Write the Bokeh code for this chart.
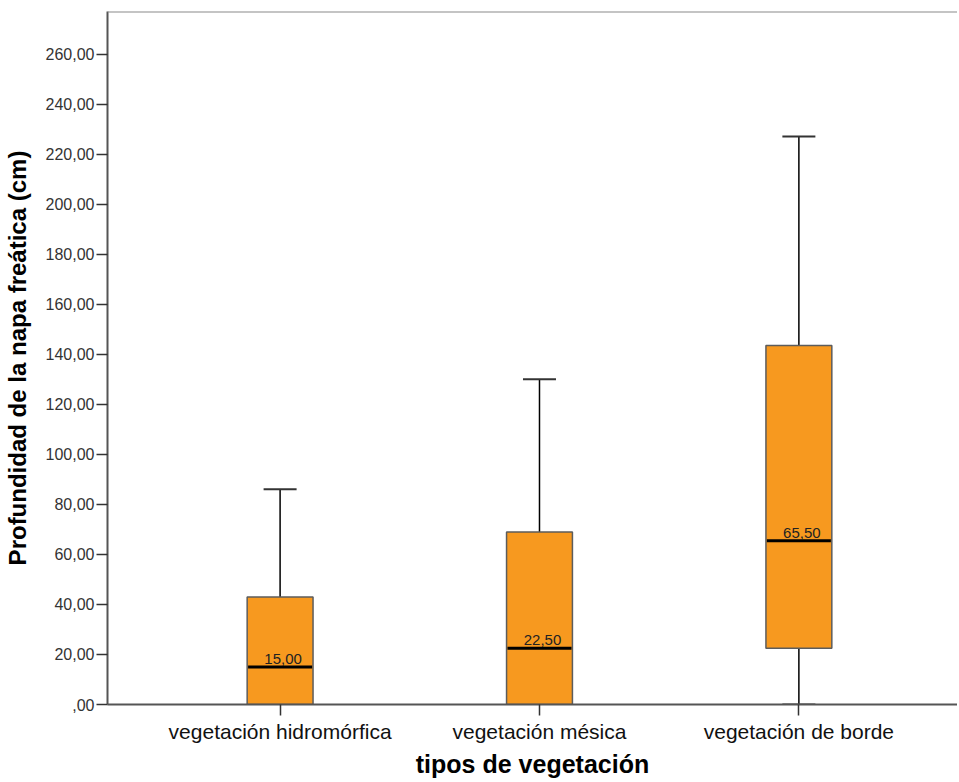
from bokeh.plotting import figure
from bokeh.models import Range1d, FixedTicker, Whisker, TeeHead, ColumnDataSource, Span, LabelSet
from bokeh.core.properties import value
from bokeh.embed import file_html
from bokeh.resources import INLINE

categories = ["vegetación hidromórfica", "vegetación mésica", "vegetación de borde"]
positions = [1, 2, 3]
lower_whisker = [0.0, 0.0, 0.0]
q1 = [0.0, 0.0, 22.5]
median = [15.0, 22.5, 65.5]
q3 = [43.0, 69.0, 143.5]
upper_whisker = [86.0, 130.0, 227.0]
median_labels = ["15,00", "22,50", "65,50"]
y_ticks = list(range(0, 261, 20))
y_tick_labels = [",00" if t == 0 else f"{t},00" for t in y_ticks]

FONT = "Liberation Sans"

p = figure(width=957, height=780, output_backend="svg", toolbar_location=None,
           x_range=Range1d(0.3346, 3.6115), y_range=Range1d(0, 277),
           min_border_left=105, min_border_right=0, min_border_top=11, min_border_bottom=74)
p.outline_line_color = None
p.xgrid.visible = False
p.ygrid.visible = False
p.background_fill_color = "white"

src = ColumnDataSource(dict(x=positions, lo=lower_whisker, q1=q1, med=median, q3=q3,
                            hi=upper_whisker, lab=median_labels))

# whiskers
p.add_layout(Whisker(source=src, base="x", lower="q3", upper="hi", dimension="height",
                     line_color="black", line_width=1.5,
                     upper_head=TeeHead(size=33, line_color="#333333", line_width=2),
                     lower_head=None))
p.add_layout(Whisker(source=src, base="x", lower="lo", upper="q1", dimension="height",
                     line_color="black", line_width=1.5,
                     lower_head=TeeHead(size=33, line_color="#333333", line_width=2),
                     upper_head=None))

# boxes
p.vbar(x="x", width=0.254, bottom="q1", top="q3", source=src,
       fill_color="#F7991F", line_color="#5c5c5c", line_width=1.5)

# medians
p.scatter(x="x", y="med", source=src, marker="dash", size=64, line_color="black", line_width=3)

# median labels
p.add_layout(LabelSet(x="x", y="med", text="lab", source=src, x_offset=3, y_offset=3,
                      text_align="center", text_baseline="bottom",
                      text_font=value(FONT), text_font_size="15px", text_color="#222222"))

# top frame line
p.add_layout(Span(location=277, dimension="width", line_color="#8a8a8a", line_width=2))

# axes
p.xaxis.ticker = FixedTicker(ticks=positions)
p.xaxis.major_label_overrides = {pos: c for pos, c in zip(positions, categories)}
p.yaxis.ticker = FixedTicker(ticks=y_ticks)
p.yaxis.major_label_overrides = {t: l for t, l in zip(y_ticks, y_tick_labels)}

for ax in (p.xaxis, p.yaxis):
    ax.axis_line_color = "#555555"
    ax.axis_line_width = 2
    ax.major_tick_line_color = "#333333"
    ax.major_tick_line_width = 1.5
    ax.major_tick_in = 0
    ax.minor_tick_line_color = None
    ax.major_label_text_font = FONT
    ax.axis_label_text_font = FONT
    ax.axis_label_text_font_style = "bold"
    ax.axis_label_text_color = "black"

p.xaxis.major_tick_out = 11
p.xaxis.major_label_standoff = 4
p.xaxis.major_label_text_font_size = "21px"
p.xaxis.major_label_text_color = "#111111"
p.xaxis.axis_label = "tipos de vegetación"
p.xaxis.axis_label_text_font_size = "25px"
p.xaxis.axis_label_standoff = 4

p.yaxis.major_tick_out = 11
p.yaxis.major_label_standoff = 2
p.yaxis.major_label_text_font_size = "16px"
p.yaxis.major_label_text_color = "#333333"
p.yaxis.axis_label = "Profundidad de la napa freática (cm)"
p.yaxis.axis_label_text_font_size = "24px"
p.yaxis.axis_label_standoff = 12

open("out.html", "w").write(file_html(p, INLINE))
